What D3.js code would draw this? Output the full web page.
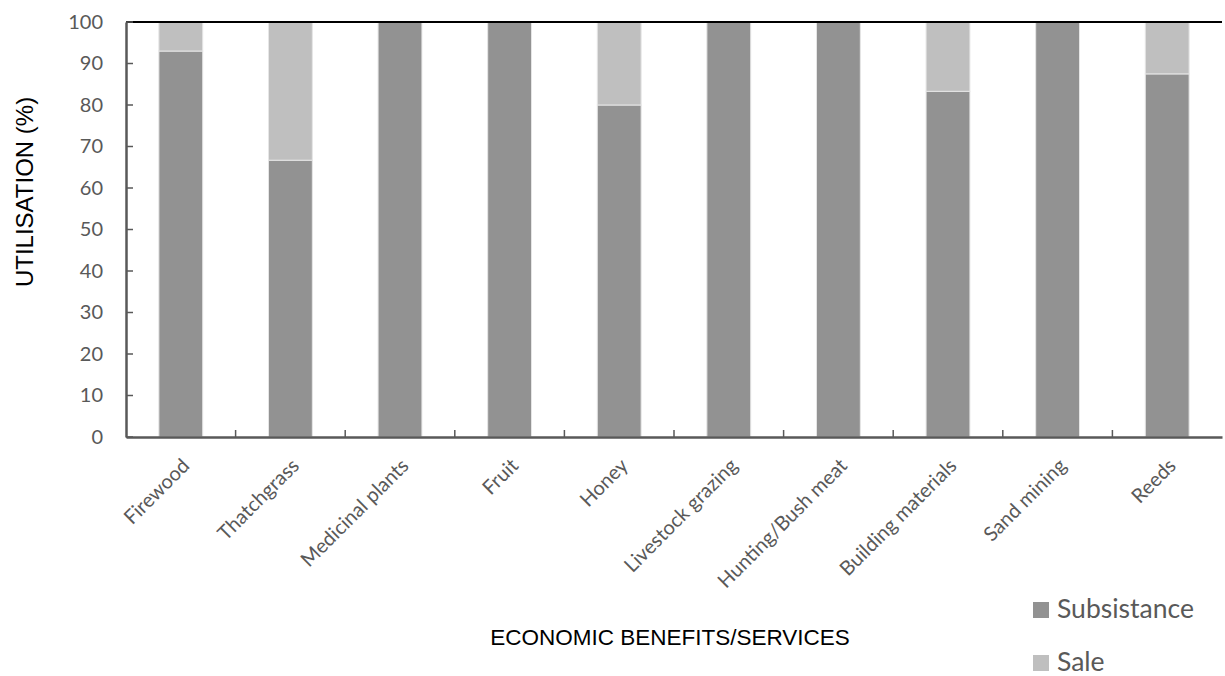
<!DOCTYPE html>
<html>
<head>
<meta charset="utf-8">
<script src="https://cdn.jsdelivr.net/npm/d3@7"></script>
<style>
  html, body { margin: 0; padding: 0; background: #fff; }
  svg { display: block; }
</style>
</head>
<body>
<svg id="chart" width="1225" height="676"></svg>
<script>
// Utilisation of economic benefits/services (%), split by purpose
const categories = ["Firewood", "Thatchgrass", "Medicinal plants", "Fruit", "Honey",
  "Livestock grazing", "Hunting/Bush meat", "Building materials", "Sand mining", "Reeds"];
const subsistence = [93, 66.7, 100, 100, 80, 100, 100, 83.3, 100, 87.5];
const sale =        [7, 33.3, 0, 0, 20, 0, 0, 16.7, 0, 12.5];
const seriesNames = ["Subsistance", "Sale"];
const seriesColors = ["#929292", "#bfbfbf"];
const yTicks = [0, 10, 20, 30, 40, 50, 60, 70, 80, 90, 100];

const svg = d3.select("#chart");
const margin = { left: 126, right: 3, top: 22, bottom: 239 };
const W = 1225, H = 676;
const x0 = margin.left, x1 = W - margin.right;
const y0 = H - margin.bottom, y1 = margin.top;
const labelFont = "Lato, 'Open Sans', sans-serif";
const titleFont = "'Liberation Sans', Arial, sans-serif";

const x = d3.scaleBand().domain(categories).range([x0, x1]).paddingInner(0.6).paddingOuter(0.3);
const xBand = d3.scaleBand().domain(categories).range([x0, x1]);
const y = d3.scaleLinear().domain([0, 100]).range([y0, y1]);

const rows = categories.map((c, i) => ({ cat: c, Subsistance: subsistence[i], Sale: sale[i] }));
const stacked = d3.stack().keys(seriesNames)(rows);

// Bars
svg.append("g").selectAll("g").data(stacked).join("g")
  .attr("fill", (d, i) => seriesColors[i])
  .selectAll("rect").data(d => d).join("rect")
  .attr("x", d => x(d.data.cat))
  .attr("width", x.bandwidth())
  .attr("y", d => y(d[1]))
  .attr("height", d => Math.max(0, y(d[0]) - y(d[1])))
  .attr("stroke", "#e6e6e6")
  .attr("stroke-width", 1);

// Top border line at 100
svg.append("line")
  .attr("x1", x0).attr("x2", x1)
  .attr("y1", y(100)).attr("y2", y(100))
  .attr("stroke", "#000").attr("stroke-width", 2);

// Y axis
const yAxis = d3.axisLeft(y).tickValues(yTicks).tickSize(0).tickPadding(23);
const gy = svg.append("g").attr("transform", `translate(${x0},0)`).call(yAxis);
gy.select(".domain").attr("stroke", "#595959").attr("stroke-width", 2.5);
gy.selectAll("text")
  .attr("font-family", labelFont)
  .attr("font-size", 20)
  .attr("fill", "#595959");
// inward tick marks
svg.append("g").selectAll("line").data(yTicks).join("line")
  .attr("x1", x0).attr("x2", x0 + 7)
  .attr("y1", d => y(d)).attr("y2", d => y(d))
  .attr("stroke", "#595959").attr("stroke-width", 1.5);

// X axis
const gx = svg.append("g").attr("transform", `translate(0,${y0})`)
  .call(d3.axisBottom(xBand).tickSize(0).tickPadding(0));
gx.select(".domain").attr("stroke", "#595959").attr("stroke-width", 2.5);
gx.selectAll("text")
  .attr("font-family", labelFont)
  .attr("font-size", 20)
  .attr("fill", "#595959")
  .attr("text-anchor", "end")
  .attr("dy", null)
  .attr("y", null)
  .attr("transform", "translate(10,30) rotate(-45)");
// category boundary ticks, pointing up
svg.append("g").selectAll("line").data(categories.slice(1)).join("line")
  .attr("x1", d => xBand(d)).attr("x2", d => xBand(d))
  .attr("y1", y0).attr("y2", y0 - 7)
  .attr("stroke", "#595959").attr("stroke-width", 1.5);

// Axis titles
svg.append("text")
  .attr("transform", "translate(33,192) rotate(-90)")
  .attr("text-anchor", "middle")
  .attr("font-family", titleFont)
  .attr("font-size", 24)
  .attr("fill", "#000")
  .text("UTILISATION (%)");

svg.append("text")
  .attr("x", 670).attr("y", 645)
  .attr("text-anchor", "middle")
  .attr("font-family", titleFont)
  .attr("font-size", 22.5)
  .attr("fill", "#000")
  .text("ECONOMIC BENEFITS/SERVICES");

// Legend
const legend = svg.append("g").selectAll("g").data(seriesNames).join("g")
  .attr("transform", (d, i) => `translate(1033,${618 + i * 53})`);
legend.append("rect")
  .attr("width", 16).attr("height", 16)
  .attr("y", -16)
  .attr("fill", (d, i) => seriesColors[i]);
legend.append("text")
  .attr("x", 24).attr("y", 0)
  .attr("font-family", labelFont)
  .attr("font-size", 26.5)
  .attr("fill", "#595959")
  .text(d => d);
</script>
</body>
</html>
